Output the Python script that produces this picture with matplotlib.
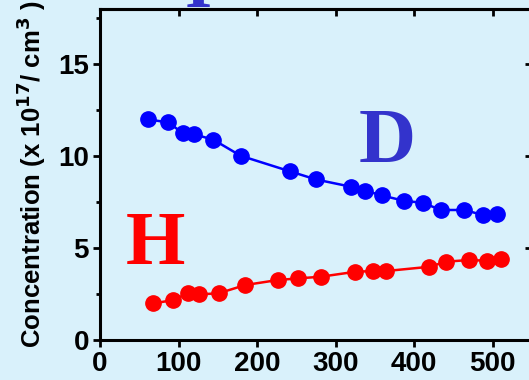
import matplotlib
matplotlib.use("Agg")
import matplotlib.pyplot as plt
from matplotlib.ticker import MultipleLocator

# Depth / position (x) and concentrations (10^17 cm^-3)
d_x = [61, 87, 106, 120, 144, 179, 242, 275, 320, 338, 359, 387, 411, 434, 464, 488, 505]
d_y = [12.0, 11.83, 11.23, 11.18, 10.9, 10.02, 9.17, 8.73, 8.33, 8.12, 7.86, 7.57, 7.46, 7.07, 7.07, 6.79, 6.83]

h_x = [68, 93, 112, 126, 151, 185, 226, 252, 281, 325, 347, 364, 419, 441, 470, 493, 510]
h_y = [1.99, 2.17, 2.54, 2.48, 2.54, 2.99, 3.26, 3.35, 3.44, 3.71, 3.75, 3.75, 3.98, 4.26, 4.35, 4.31, 4.39]

x_ticks = [0, 100, 200, 300, 400, 500]
y_ticks = [0, 5, 10, 15]

bg = "#d9f1fb"
fig = plt.figure(figsize=(5.29, 3.80), dpi=100, facecolor=bg)
ax = fig.add_axes([100 / 529, 1 - 340 / 380, 432 / 529, 331 / 380], facecolor=bg)

ax.plot(d_x, d_y, "-o", color="#0000ff", lw=1.8, ms=11, clip_on=False, zorder=3)
ax.plot(h_x, h_y, "-o", color="#ff0000", lw=1.8, ms=11, clip_on=False, zorder=3)

ax.set_xlim(0, 550)
ax.set_ylim(0, 18)
ax.set_xticks(x_ticks)
ax.set_yticks(y_ticks)
ax.yaxis.set_minor_locator(MultipleLocator(2.5))

for s in ax.spines.values():
    s.set_linewidth(2.2)
    s.set_color("black")

ax.tick_params(axis="both", which="major", direction="out", length=5, width=2,
               labelsize=20, pad=3)
ax.tick_params(axis="y", which="minor", direction="out", length=3, width=2)
ax.tick_params(axis="x", which="both", top=False)
ax.tick_params(axis="y", which="both", right=False)

# inward ticks on the top and right edges
sec_x = ax.secondary_xaxis("top")
sec_x.set_xticks(x_ticks)
sec_x.tick_params(direction="in", length=5, width=2, labeltop=False)
sec_y = ax.secondary_yaxis("right")
sec_y.set_yticks(y_ticks)
sec_y.tick_params(direction="in", length=5, width=2, labelright=False)
for s in list(sec_x.spines.values()) + list(sec_y.spines.values()):
    s.set_linewidth(2.2)

for lab in ax.get_xticklabels() + ax.get_yticklabels():
    lab.set_fontweight("bold")
    lab.set_fontfamily("Liberation Sans")

plt.rcParams["mathtext.fontset"] = "custom"
plt.rcParams["mathtext.bf"] = "Liberation Sans:bold"
ax.set_ylabel("Concentration (x 10$^{\\mathbf{17}}$/ cm$^{\\mathbf{3}}$ )",
              fontsize=18.5, fontweight="bold", family="Liberation Sans", labelpad=7)

serif = dict(family="Liberation Serif", fontweight="bold")
ax.text(366, 9.67, "D", color="#3333cc", fontsize=57, ha="center", va="baseline", **serif)
ax.text(71, 4.13, "H", color="#ff0000", fontsize=55, ha="center", va="baseline", **serif)
fig.text(198 / 529, 1 - 7 / 380, "I", color="#3333cc", fontsize=50, ha="center",
         va="baseline", **serif)

fig.savefig("out.png", dpi=100, facecolor=bg)
